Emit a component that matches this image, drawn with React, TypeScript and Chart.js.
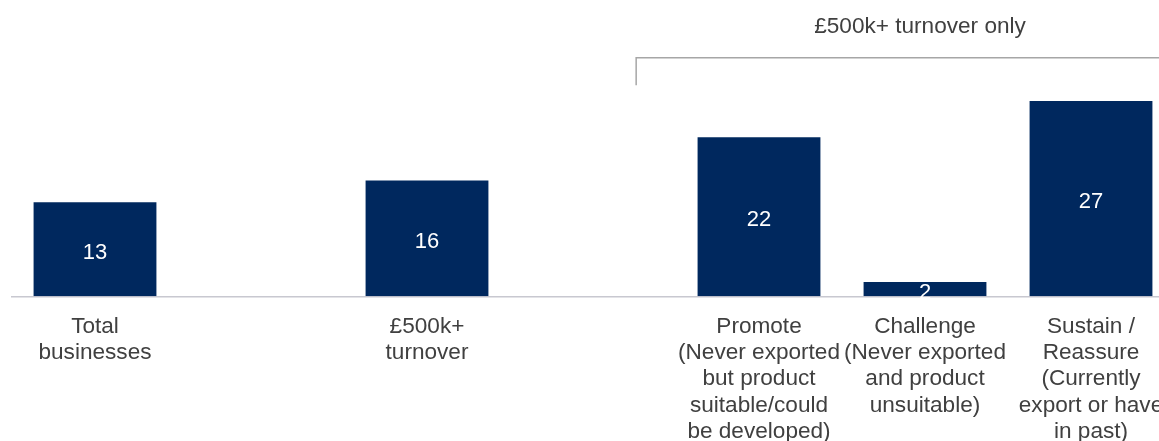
import React, { useEffect, useRef } from "react";
import { Chart, registerables } from "chart.js";

Chart.register(...registerables);

const categories: (string | string[])[] = [
  ["Total", "businesses"],
  "",
  ["£500k+", "turnover"],
  "",
  ["Promote", "(Never exported", "but product", "suitable/could", "be developed)"],
  ["Challenge", "(Never exported", "and product", "unsuitable)"],
  ["Sustain /", "Reassure", "(Currently", "export or have", "in past)"],
];
const values: (number | null)[] = [13, null, 16, null, 22, 2, 27];
const bracketLabel = "£500k+ turnover only";

const FONT = "'Liberation Sans', Arial, sans-serif";
const BAR = "#00285E";
const FS = 22.6;

const valueLabels = {
  id: "valueLabels",
  afterDatasetsDraw(chart: any) {
    const ctx = chart.ctx;
    const meta = chart.getDatasetMeta(0);
    ctx.save();
    ctx.fillStyle = "#ffffff";
    ctx.font = `22px ${FONT}`;
    ctx.textAlign = "center";
    ctx.textBaseline = "middle";
    meta.data.forEach((el: any, i: number) => {
      const v = values[i];
      if (v === null || v === undefined) return;
      const { x, y, base } = el.getProps(["x", "y", "base"], true);
      ctx.fillText(String(v), x, (y + base) / 2 + 3.5);
    });
    ctx.restore();
  },
};

const bracket = {
  id: "bracket",
  afterDraw(chart: any) {
    const ctx = chart.ctx;
    const xs = chart.scales.x;
    const ys = chart.scales.y;
    const x0 = xs.getPixelForValue(3.26);
    const yLine = ys.getPixelForValue(33);
    const yTick = ys.getPixelForValue(29.2);
    ctx.save();
    ctx.strokeStyle = "#a6a6a6";
    ctx.lineWidth = 1.5;
    ctx.beginPath();
    ctx.moveTo(x0, yTick);
    ctx.lineTo(x0, yLine);
    ctx.lineTo(chart.width + 10, yLine);
    ctx.stroke();
    ctx.fillStyle = "#404040";
    ctx.font = `${FS}px ${FONT}`;
    ctx.textAlign = "center";
    ctx.textBaseline = "middle";
    ctx.fillText(bracketLabel, xs.getPixelForValue(4.97), ys.getPixelForValue(37.3));
    ctx.restore();
  },
};

export default function App() {
  const ref = useRef<HTMLCanvasElement | null>(null);
  useEffect(() => {
    if (!ref.current) return;
    const chart = new Chart(ref.current, {
      type: "bar",
      data: {
        labels: categories as any,
        datasets: [
          {
            data: values as any,
            backgroundColor: BAR,
            borderWidth: 0,
            barPercentage: 0.74,
            categoryPercentage: 1,
          },
        ],
      },
      options: {
        responsive: false,
        animation: false,
        devicePixelRatio: 1,
        layout: { padding: { left: 12, right: 6, top: 7, bottom: 2 } },
        plugins: { legend: { display: false }, tooltip: { enabled: false } },
        scales: {
          x: {
            grid: { display: false },
            border: { display: true, color: "#c8c8d0", width: 1.5 },
            ticks: {
              autoSkip: false,
              maxRotation: 0,
              minRotation: 0,
              padding: 9,
              color: "#404040",
              font: { family: FONT, size: FS, lineHeight: 1.165 },
            },
          },
          y: { display: false, min: 0, max: 40 },
        },
      },
      plugins: [valueLabels, bracket],
    });
    return () => chart.destroy();
  }, []);
  return (
    <div style={{ position: "fixed", left: 0, top: 0, width: 1159, height: 441, overflow: "hidden", background: "#fff" }}>
      <canvas ref={ref} width={1180} height={456} style={{ position: "absolute", left: 0, top: 0, width: 1180, height: 456 }} />
    </div>
  );
}
